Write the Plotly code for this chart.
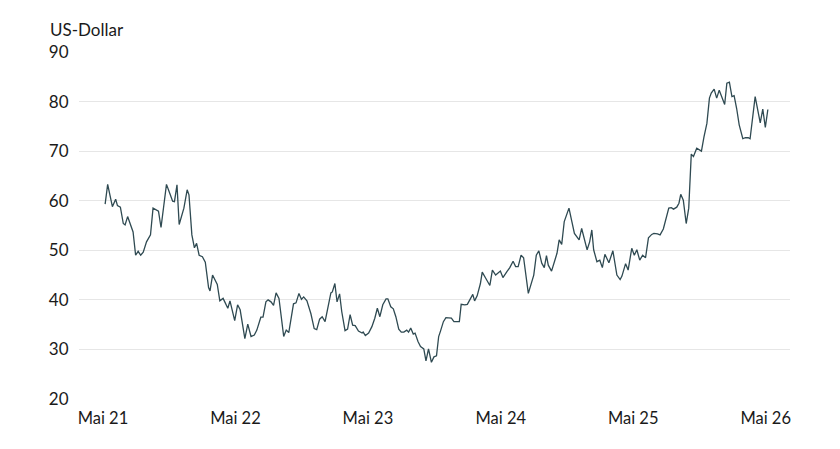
import plotly.graph_objects as go

dates = [
    "2021-05-07", "2021-05-14", "2021-05-27", "2021-06-05", "2021-06-10", "2021-06-18",
    "2021-06-26", "2021-07-01", "2021-07-08", "2021-07-23", "2021-07-30", "2021-08-06",
    "2021-08-13", "2021-08-20", "2021-08-29", "2021-09-09", "2021-09-16", "2021-10-01",
    "2021-10-08", "2021-10-23", "2021-11-01", "2021-11-09", "2021-11-14", "2021-11-21",
    "2021-11-27", "2021-12-10", "2021-12-19", "2021-12-24", "2022-01-01", "2022-01-08",
    "2022-01-14", "2022-01-21", "2022-01-30", "2022-02-07", "2022-02-16", "2022-02-20",
    "2022-02-27", "2022-03-12", "2022-03-19", "2022-03-28", "2022-04-10", "2022-04-16",
    "2022-04-29", "2022-05-07", "2022-05-14", "2022-05-27", "2022-06-04", "2022-06-13",
    "2022-06-22", "2022-06-29", "2022-07-10", "2022-07-16", "2022-07-24", "2022-07-30",
    "2022-08-07", "2022-08-14", "2022-08-21", "2022-08-29", "2022-09-11", "2022-09-18",
    "2022-09-25", "2022-10-08", "2022-10-15", "2022-10-23", "2022-10-30", "2022-11-05",
    "2022-11-14", "2022-11-25", "2022-12-04", "2022-12-11", "2022-12-19", "2022-12-26",
    "2023-01-03", "2023-01-14", "2023-01-19", "2023-01-23", "2023-01-30", "2023-02-05",
    "2023-02-12", "2023-02-18", "2023-02-27", "2023-03-06", "2023-03-13", "2023-03-20",
    "2023-03-27", "2023-04-05", "2023-04-15", "2023-04-18", "2023-04-24", "2023-05-03",
    "2023-05-12", "2023-05-20", "2023-05-27", "2023-06-03", "2023-06-11", "2023-06-20",
    "2023-06-25", "2023-07-03", "2023-07-10", "2023-07-17", "2023-07-25", "2023-08-01",
    "2023-08-08", "2023-08-16", "2023-08-21", "2023-08-27", "2023-09-03", "2023-09-08",
    "2023-09-16", "2023-09-23", "2023-10-02", "2023-10-08", "2023-10-15", "2023-10-23",
    "2023-10-30", "2023-11-06", "2023-11-12", "2023-11-17", "2023-11-25", "2023-12-02",
    "2023-12-09", "2023-12-17", "2023-12-24", "2024-01-02", "2024-01-08", "2024-01-13",
    "2024-01-23", "2024-01-30", "2024-02-08", "2024-02-14", "2024-02-19", "2024-02-26",
    "2024-03-06", "2024-03-11", "2024-03-21", "2024-04-01", "2024-04-08", "2024-04-17",
    "2024-04-30", "2024-05-07", "2024-05-18", "2024-05-26", "2024-06-04", "2024-06-11",
    "2024-06-18", "2024-06-26", "2024-07-03", "2024-07-16", "2024-07-31", "2024-08-07",
    "2024-08-14", "2024-08-22", "2024-08-29", "2024-09-04", "2024-09-09", "2024-09-18",
    "2024-09-28", "2024-10-03", "2024-10-09", "2024-10-16", "2024-10-23", "2024-11-05",
    "2024-11-13", "2024-11-20", "2024-12-03", "2024-12-10", "2024-12-25", "2025-01-01",
    "2025-01-07", "2025-01-12", "2025-01-21", "2025-01-29", "2025-02-05", "2025-02-12",
    "2025-02-23", "2025-03-06", "2025-03-17", "2025-03-26", "2025-03-31", "2025-04-10",
    "2025-04-17", "2025-04-27", "2025-05-04", "2025-05-11", "2025-05-19", "2025-05-27",
    "2025-06-04", "2025-06-12", "2025-06-21", "2025-06-27", "2025-07-07", "2025-07-14",
    "2025-07-23", "2025-07-31", "2025-08-07", "2025-08-14", "2025-08-20", "2025-08-29",
    "2025-09-04", "2025-09-09", "2025-09-16", "2025-09-24", "2025-10-01", "2025-10-08",
    "2025-10-14", "2025-10-23", "2025-10-30", "2025-11-05", "2025-11-12", "2025-11-20",
    "2025-11-27", "2025-12-02", "2025-12-10", "2025-12-17", "2025-12-24", "2026-01-01",
    "2026-01-08", "2026-01-14", "2026-01-21", "2026-01-28", "2026-02-03", "2026-02-10",
    "2026-02-17", "2026-02-27", "2026-03-06", "2026-03-14", "2026-03-19", "2026-04-02",
    "2026-04-08", "2026-04-16", "2026-04-23", "2026-04-30", "2026-05-07",
]

prices = [
    59.3, 63.3, 58.8, 60.3, 59.0, 58.7,
    55.4, 55.1, 56.8, 53.7, 49.0, 49.8,
    49.0, 49.6, 51.7, 53.1, 58.5, 57.9,
    54.6, 63.3, 61.5, 59.9, 59.8, 63.2,
    55.2, 58.5, 62.2, 61.2, 53.1, 50.5,
    51.4, 49.0, 48.7, 47.6, 42.5, 41.8,
    45.0, 43.1, 39.8, 40.3, 38.3, 39.8,
    35.8, 39.0, 38.0, 32.2, 35.1, 32.6,
    32.9, 33.9, 36.5, 36.5, 39.6, 40.0,
    39.6, 38.9, 41.4, 40.3, 32.6, 33.9,
    33.4, 39.2, 39.4, 41.3, 40.1, 40.6,
    39.8, 37.2, 34.2, 34.0, 36.1, 36.6,
    35.6, 39.8, 41.4, 41.6, 43.3, 39.6,
    41.2, 37.6, 33.8, 34.1, 37.0, 34.9,
    34.8, 33.7, 33.3, 33.5, 32.8, 33.3,
    34.6, 36.3, 38.3, 36.6, 39.0, 40.2,
    40.2, 38.6, 38.2, 36.6, 34.1, 33.5,
    33.5, 33.9, 33.5, 34.3, 33.1, 33.3,
    31.6, 30.6, 30.1, 27.7, 30.1, 27.4,
    28.5, 28.7, 32.6, 33.7, 35.6, 36.4,
    36.4, 36.3, 35.6, 35.6, 35.6, 39.1,
    39.0, 39.1, 40.4, 41.1, 39.8, 40.8,
    43.3, 45.6, 44.3, 42.9, 46.0, 45.0,
    45.8, 44.5, 45.7, 46.5, 47.8, 46.7,
    46.7, 49.0, 48.5, 41.3, 45.0, 49.0,
    49.9, 47.4, 46.5, 48.9, 47.0, 45.8,
    48.2, 49.4, 52.1, 51.2, 55.8, 58.5,
    55.8, 53.4, 52.1, 54.4, 50.1, 51.7,
    54.1, 50.1, 47.7, 48.0, 46.5, 49.2,
    47.5, 49.9, 45.0, 44.1, 44.8, 47.3,
    46.0, 50.4, 49.0, 50.1, 48.0, 49.0,
    48.5, 52.5, 53.2, 53.4, 53.3, 53.1,
    54.3, 56.8, 58.5, 58.6, 58.3, 58.7,
    59.5, 61.3, 60.1, 55.4, 58.5, 69.4,
    68.9, 70.6, 70.2, 70.0, 72.9, 75.6,
    80.7, 81.7, 82.5, 80.7, 82.3, 80.5,
    79.4, 83.7, 83.9, 81.0, 81.2, 78.6,
    75.3, 72.5, 72.7, 72.7, 72.5, 81.0,
    78.6, 75.7, 78.5, 74.8, 78.4,
]

tick_vals = ["2021-05-01", "2022-05-01", "2023-05-01", "2024-05-01", "2025-05-01", "2026-05-01"]
tick_text = ["Mai 21", "Mai 22", "Mai 23", "Mai 24", "Mai 25", "Mai 26"]
y_ticks = [20, 30, 40, 50, 60, 70, 80, 90]

FONT = "Lato, 'Source Sans Pro', 'Open Sans', sans-serif"
TEXT = "#1a1a1a"

fig = go.Figure()
fig.add_trace(go.Scatter(
    x=dates, y=prices, mode="lines",
    line=dict(color="#2f4a52", width=1.3),
    hoverinfo="x+y", showlegend=False,
))

fig.update_layout(
    width=840, height=449,
    margin=dict(l=79, r=50, t=52, b=50),
    paper_bgcolor="white", plot_bgcolor="white",
    font=dict(family=FONT, size=17, color=TEXT),
    title=dict(text="US-Dollar", x=50 / 840, xanchor="left",
               y=1 - 30 / 449, yanchor="middle",
               font=dict(family=FONT, size=17, color=TEXT)),
    xaxis=dict(
        type="date",
        range=["2021-02-24", "2026-07-07"],
        tickmode="array", tickvals=tick_vals, ticktext=tick_text,
        showgrid=False, zeroline=False, showline=False,
        ticks="outside", ticklen=4, tickcolor="rgba(0,0,0,0)",
        tickfont=dict(family=FONT, size=16.5, color=TEXT),
    ),
    yaxis=dict(
        range=[20, 90],
        tickmode="array", tickvals=y_ticks,
        showgrid=True, gridcolor="#e6e6e6", gridwidth=1,
        zeroline=False, showline=False,
        ticks="outside", ticklen=6, tickcolor="rgba(0,0,0,0)",
        tickfont=dict(family=FONT, size=17, color=TEXT),
    ),
)

fig.write_html("out.html")
